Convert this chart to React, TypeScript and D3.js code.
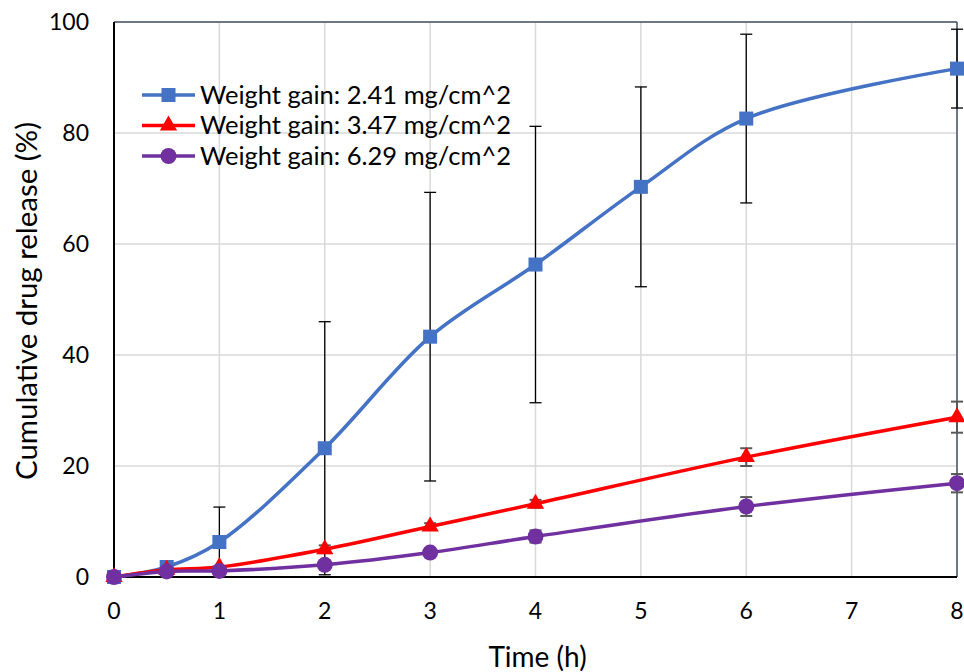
import React from "react";
import * as d3 from "d3";

const times = [0, 0.5, 1, 2, 3, 4, 6, 8];
const blueTimes = [0, 0.5, 1, 2, 3, 4, 5, 6, 8];
const blueVals = [0, 1.8, 6.3, 23.2, 43.3, 56.3, 70.3, 82.6, 91.6];
const blueErrs = [0, 0, 6.3, 22.8, 26.0, 24.9, 18.0, 15.2, 7.1];
const redValues = [0, 1.3, 1.8, 5.0, 9.1, 13.2, 21.6, 28.8];
const redErrors = [0, 0, 0, 0.7, 0.6, 0.7, 1.6, 2.8];
const purpleValues = [0, 1.0, 1.1, 2.2, 4.4, 7.3, 12.7, 16.9];
const purpleErrors = [0, 0, 0, 0.3, 0.3, 1.1, 1.7, 1.65];
const xTicks = [0, 1, 2, 3, 4, 5, 6, 7, 8];
const yTicks = [0, 20, 40, 60, 80, 100];
const legendLabels = [
  "Weight gain: 2.41 mg/cm^2",
  "Weight gain: 3.47 mg/cm^2",
  "Weight gain: 6.29 mg/cm^2",
];

const W = 964, H = 672;
const L = 114, R = 957, T = 22, B = 577;
const FONT = "Lato, 'Open Sans', sans-serif";

export default function App() {
  const x = d3.scaleLinear().domain([0, 8]).range([L, R]);
  const y = d3.scaleLinear().domain([0, 100]).range([B, T]);
  const line = d3
    .line<[number, number]>()
    .x((d) => x(d[0]))
    .y((d) => y(d[1]))
    .curve(d3.curveCatmullRom.alpha(0.5));

  const series = [
    { t: blueTimes, v: blueVals, e: blueErrs, color: "#4472C4", marker: "square", errColor: "#000", errW: 1.3 },
    { t: times, v: redValues, e: redErrors, color: "#FF0000", marker: "triangle", errColor: "#595959", errW: 2 },
    { t: times, v: purpleValues, e: purpleErrors, color: "#7030A0", marker: "circle", errColor: "#595959", errW: 2 },
  ];

  const drawMarker = (kind: string, cx: number, cy: number, color: string, key: string) => {
    if (kind === "square") return <rect key={key} x={cx - 7} y={cy - 7} width={14} height={14} fill={color} />;
    if (kind === "triangle") {
      const p = d3.symbol().type(d3.symbolTriangle).size(130)();
      return <path key={key} d={p || ""} transform={`translate(${cx},${cy})`} fill={color} />;
    }
    return <circle key={key} cx={cx} cy={cy} r={8} fill={color} />;
  };

  return (
    <svg width={W} height={H} style={{ display: "block", position: "absolute", left: 0, top: 0 }} fontFamily={FONT}>
      <rect width={W} height={H} fill="#fff" />
      {xTicks.map((t) => (
        <line key={"gx" + t} x1={x(t)} x2={x(t)} y1={T} y2={B} stroke="#D9D9D9" strokeWidth={1.5} />
      ))}
      {yTicks.map((t) => (
        <line key={"gy" + t} x1={L} x2={R} y1={y(t)} y2={y(t)} stroke="#D9D9D9" strokeWidth={1.5} />
      ))}
      <line x1={L} x2={R} y1={T} y2={T} stroke="#44546A" strokeWidth={1.5} />
      <line x1={R} x2={R} y1={T} y2={B} stroke="#44546A" strokeWidth={1.5} />
      <line x1={L} x2={L} y1={T} y2={B} stroke="#000" strokeWidth={2} />
      <line x1={L} x2={R} y1={B} y2={B} stroke="#000" strokeWidth={2} />

      {series.map((s, si) => (
        <g key={"s" + si}>
          {s.t.map((t, i) =>
            s.e[i] > 0 ? (
              <g key={"e" + i} stroke={s.errColor} strokeWidth={s.errW}>
                <line x1={x(t)} x2={x(t)} y1={y(s.v[i] - s.e[i])} y2={y(s.v[i] + s.e[i])} />
                <line x1={x(t) - 6} x2={x(t) + 6} y1={y(s.v[i] - s.e[i])} y2={y(s.v[i] - s.e[i])} />
                <line x1={x(t) - 6} x2={x(t) + 6} y1={y(s.v[i] + s.e[i])} y2={y(s.v[i] + s.e[i])} />
              </g>
            ) : null
          )}
          <path d={line(s.t.map((t, i) => [t, s.v[i]] as [number, number])) || ""} fill="none" stroke={s.color} strokeWidth={3.5} />
          {s.t.map((t, i) => drawMarker(s.marker, x(t), y(s.v[i]), s.color, "m" + i))}
        </g>
      ))}

      {xTicks.map((t) => (
        <text key={"tx" + t} x={x(t)} y={611} dy="0.35em" textAnchor="middle" fontSize={23} fill="#000">{t}</text>
      ))}
      {yTicks.map((t) => (
        <text key={"ty" + t} x={L - 25} y={y(t)} dy="0.35em" textAnchor="end" fontSize={23} fill="#000">{t}</text>
      ))}
      <text x={(L + R) / 2 + 2} y={657} dy="0.35em" textAnchor="middle" fontSize={28} fill="#000">Time (h)</text>
      <text transform={`translate(27,301) rotate(-90)`} dy="0.35em" textAnchor="middle" fontSize={28} textLength={358} lengthAdjust="spacingAndGlyphs" fill="#000">Cumulative drug release (%)</text>

      {legendLabels.map((lab, i) => {
        const s = series[i];
        const ly = 95 + i * 30.5;
        return (
          <g key={"lg" + i}>
            <line x1={142} x2={195} y1={ly} y2={ly} stroke={s.color} strokeWidth={3.5} />
            {drawMarker(s.marker, 168.5, ly, s.color, "lm" + i)}
            <text x={200} y={ly} dy="0.35em" fontSize={25.5} fill="#000">{lab}</text>
          </g>
        );
      })}
    </svg>
  );
}
